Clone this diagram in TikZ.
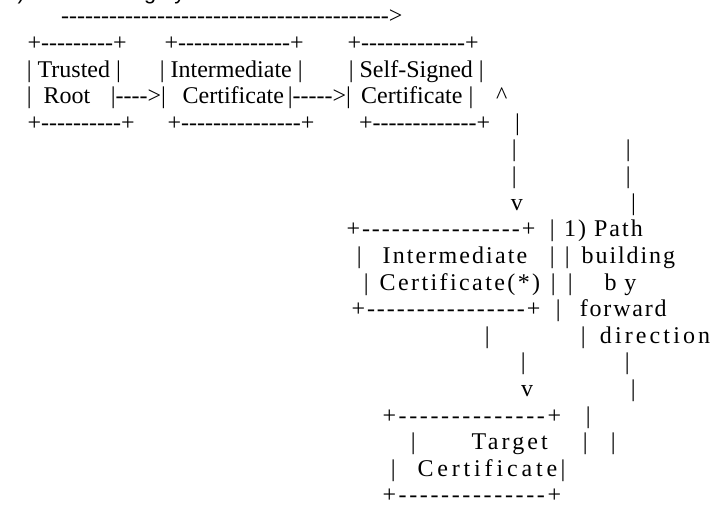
\documentclass[tikz,border=0pt]{standalone}
\usepackage{fontspec}
\newfontfamily\ascfont{Liberation Serif}[Ligatures={TeXOff,CommonOff}]
\newfontfamily\capfont{Liberation Sans}
\newcommand\ls[2]{{\addfontfeature{LetterSpace=#1}#2}}

\begin{document}
\begin{tikzpicture}[x=1pt,y=-26.6pt]
\tikzset{asc/.style={anchor=base west,inner sep=0pt,text depth=0pt,font=\ascfont\fontsize{24}{26}\selectfont}}
\path[use as bounding box] (0,-0.9023) rectangle (714,18.0827);

%% caption line, cut off by the top edge
\node[anchor=base west,inner sep=0pt,font=\capfont\fontsize{21.7}{24}\selectfont] (cap) at (5.3,-0.92) {2) Path building by};

%% upper row: the three boxes
\node[asc] (arTop) at (61,0) {----------------------------------------->};
\node[asc] (tr1) at (27.5,1) {+---------+};
\node[asc] (im1) at (164.5,1) {+--------------+};
\node[asc] (ss1) at (347.5,1) {+-------------+};
\node[asc] (tr2) at (26.6,2) {| Trusted |};
\node[asc] (im2) at (159.6,2) {| Intermediate |};
\node[asc] (ss2) at (348.6,2) {| Self-Signed |};
\node[asc] (tr3) at (26.6,3) {|\ \ Root};
\node[asc] (ar1) at (110.6,3) {|---->|};
\node[asc] (im3) at (182.5,3) {Certificate};
\node[asc] (ar2) at (287.6,3) {|----->|};
\node[asc] (ss3) at (361,3) {Certificate |};
\node[asc] (up3) at (496,3) {\textasciicircum};
\node[asc] (tr4) at (27.5,4) {+----------+};
\node[asc] (im4) at (167.3,4) {+---------------+};
\node[asc] (ss4) at (359,4) {+-------------+};
\node[asc] (up4) at (515,4) {|};

%% down to the second intermediate
\node[asc] (dn5) at (511.6,5) {|};
\node[asc] (fw5) at (625.6,5) {|};
\node[asc] (dn6) at (511.6,6) {|};
\node[asc] (fw6) at (625.6,6) {|};
\node[asc] (dn7) at (510.7,7) {v};
\node[asc] (fw7) at (631,7) {|};

%% Intermediate Certificate(*)
\node[asc] (ic8) at (346.3,8) {\ls{8.3}{+----------------+}};
\node[asc] (fw8) at (549.6,8) {|};
\node[asc] (lb8) at (564,8) {\ls{8.3}{1) Path}};
\node[asc] (ic9a) at (356.6,9) {|};
\node[asc] (ic9) at (382.5,9) {\ls{8.8}{Intermediate}};
\node[asc] (ic9b) at (549.6,9) {|};
\node[asc] (fw9) at (564.6,9) {|};
\node[asc] (lb9) at (581.5,9) {\ls{8}{building}};
\node[asc] (ic10a) at (363.6,10) {|};
\node[asc] (ic10) at (379.5,10) {\ls{10}{Certificate(*)}};
\node[asc] (ic10b) at (550.6,10) {|};
\node[asc] (fw10) at (567.6,10) {|};
\node[asc] (lb10) at (604.5,10) {\ls{32}{by}};
\node[asc] (ic11) at (351.3,11) {\ls{8.3}{+----------------+}};
\node[asc] (fw11) at (555.6,11) {|};
\node[asc] (lb11) at (579.7,11) {\ls{7.5}{forward}};
\node[asc] (dn12) at (484.6,12) {|};
\node[asc] (fw12) at (580.6,12) {|};
\node[asc] (lb12) at (599.7,12) {\ls{13}{direction}};
\node[asc] (dn13) at (520.6,13) {|};
\node[asc] (fw13) at (624.6,13) {|};
\node[asc] (dn14) at (521,14) {v};
\node[asc] (fw14) at (630.6,14) {|};

%% Target Certificate
\node[asc] (tg15) at (382.3,15) {\ls{11}{+--------------+}};
\node[asc] (fw15) at (585.6,15) {|};
\node[asc] (tg16a) at (410.6,16) {|};
\node[asc] (tg16) at (471.5,16) {\ls{13}{Target}};
\node[asc] (tg16b) at (582.6,16) {|};
\node[asc] (fw16) at (610.6,16) {|};
\node[asc] (tg17a) at (390.6,17) {|};
\node[asc] (tg17) at (417.3,17) {\ls{16}{Certificate}};
\node[asc] (tg17b) at (560.3,17) {|};
\node[asc] (tg18) at (382.3,18) {\ls{11}{+--------------+}};
\end{tikzpicture}
\end{document}
